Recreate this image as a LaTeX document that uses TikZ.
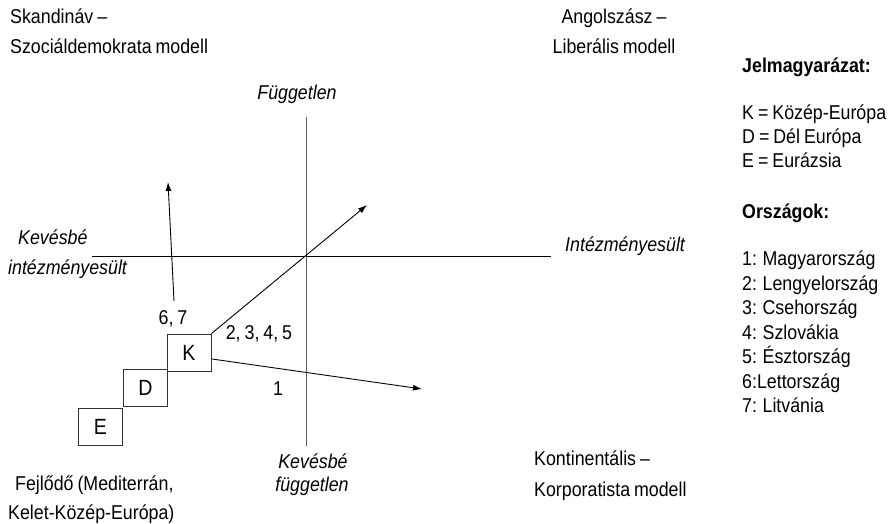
\documentclass[tikz,border=0pt]{standalone}
\usepackage{fontspec}
\setmainfont{Liberation Sans}[FakeStretch=0.89,WordSpace=0.8]
\usetikzlibrary{arrows.meta}
\begin{document}
\begin{tikzpicture}[x=1pt,y=-1pt,
  txt/.style={inner sep=0pt,font=\fontsize{20}{24}\selectfont},
  itxt/.style={txt,font=\fontsize{20}{24}\selectfont\itshape},
  btxt/.style={txt,font=\fontsize{20}{24}\selectfont\bfseries},
  regbox/.style={draw=black!80,line width=0.9pt,minimum width=44pt,minimum height=37pt,inner sep=0pt,font=\fontsize{22}{24}\selectfont},
  vaxis/.style={line width=1pt,draw=black!65},
  haxis/.style={line width=1pt,draw=black},
  arr/.style={line width=0.9pt,-{Latex[length=9pt,width=6pt]}}
]
\useasboundingbox (0,0) rectangle (889,524);
% corner labels
\node[txt,anchor=mid west] (skand1) at (10,21) {Skandináv –};
\node[txt,anchor=mid west] (skand2) at (10,51) {Szociáldemokrata modell};
\node[txt,anchor=mid] (ang1) at (614,21) {Angolszász –};
\node[txt,anchor=mid] (ang2) at (614,51) {Liberális modell};
\node[txt,anchor=mid west] (kont1) at (534,463) {Kontinentális –};
\node[txt,anchor=mid west] (kont2) at (534,494) {Korporatista modell};
\node[txt,anchor=mid west] (fejl1) at (15,488) {Fejlődő (Mediterrán,};
\node[txt,anchor=mid west] (fejl2) at (8,517) {Kelet-Közép-Európa)};
% axes
\coordinate (vtop) at (306,117);
\coordinate (vbot) at (306,446);
\coordinate (hleft) at (92,256);
\coordinate (hright) at (551,256);
\draw[vaxis] (vtop) -- (vbot);
\draw[haxis] (hleft) -- (hright);
% axis labels
\node[itxt,anchor=mid] (fugg) at (297,97) {Független};
\node[itxt,anchor=mid] (kfugg1) at (313,466) {Kevésbé};
\node[itxt,anchor=mid] (kfugg2) at (312,489) {független};
\node[itxt,anchor=mid west] (kint1) at (18,242) {Kevésbé};
\node[itxt,anchor=mid west] (kint2) at (8,272) {intézményesült};
\node[itxt,anchor=mid west] (int) at (565,249) {Intézményesült};
% boxes
\node[regbox] (K) at (189,352.5) {K};
\node[regbox] (D) at (145.5,387.5) {D};
\node[regbox] (E) at (100.5,427) {E};
% arrows
\coordinate (upstart) at (174,301);
\coordinate (upend) at (168,182);
\coordinate (diagend) at (367,205);
\coordinate (rightstart) at (212,359);
\coordinate (rightend) at (422,389);
\draw[arr] (upstart) -- (upend);
\draw[arr] (K.north east) -- (diagend);
\draw[arr] (rightstart) -- (rightend);
% arrow labels
\node[txt,anchor=mid] (l67) at (173,322) {6, 7};
\node[txt,anchor=mid] (l2345) at (259,337) {2, 3, 4, 5};
\node[txt,anchor=mid] (l1) at (278,393) {1};
% legend
\node[btxt,anchor=mid west] (jel) at (742,70) {Jelmagyarázat:};
\node[txt,anchor=mid west] (jk) at (742,117) {K = Közép-Európa};
\node[txt,anchor=mid west] (jd) at (742,141) {D = Dél Európa};
\node[txt,anchor=mid west] (je) at (742,165) {E = Eurázsia};
\node[btxt,anchor=mid west] (orsz) at (742,216) {Országok:};
\node[txt,anchor=mid west] (o1) at (742,263) {1: Magyarország};
\node[txt,anchor=mid west] (o2) at (742,287.5) {2: Lengyelország};
\node[txt,anchor=mid west] (o3) at (742,312) {3: Csehország};
\node[txt,anchor=mid west] (o4) at (742,336.5) {4: Szlovákia};
\node[txt,anchor=mid west] (o5) at (742,361) {5: Észtország};
\node[txt,anchor=mid west] (o6) at (742,385.5) {6:Lettország};
\node[txt,anchor=mid west] (o7) at (742,410) {7: Litvánia};
\end{tikzpicture}
\end{document}
